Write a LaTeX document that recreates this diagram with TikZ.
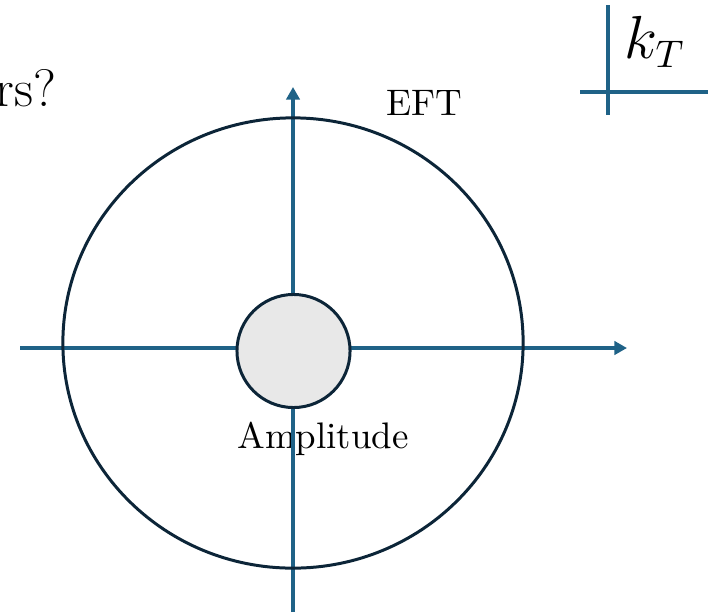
\documentclass[tikz,border=0pt]{standalone}
\usepackage{tikz}
\usetikzlibrary{arrows.meta,shapes.geometric}
\definecolor{axblue}{HTML}{1F6287}
\definecolor{rimnavy}{HTML}{0C2538}
\definecolor{blobgray}{HTML}{E8E8E8}

\begin{document}
\begin{tikzpicture}[x=0.01cm,y=-0.01cm,>={Triangle[length=3.6pt,width=3.8pt]},
  ax/.style={draw=axblue,line width=0.9pt},
  rim/.style={draw=rimnavy,line width=0.85pt,inner sep=0pt},
  lab/.style={font=\fontsize{10.5}{12}\selectfont,inner sep=0pt}]
  \clip (0,0) rectangle (719,612);
  \node[lab,anchor=base east,font=\fontsize{15}{17}\selectfont] (quest) at (57,106) {ors?};
  \node[lab,anchor=base] (efttxt) at (424,115) {EFT};
  \node[lab,anchor=base] (amptxt) at (323,448) {Amplitude};
  \node[lab,anchor=base west,font=\fontsize{16}{18}\selectfont] (kt) at (624,58) {$k_T$};
  % small k_T cross
  \coordinate (kvt) at (608,5);
  \coordinate (kvb) at (608,115);
  \coordinate (khl) at (580,92);
  \coordinate (khr) at (708,92);
  \draw[ax] (kvt) -- (kvb);
  \draw[ax] (khl) -- (khr);
  % axes
  \coordinate (xl) at (20,348);
  \coordinate (xr) at (627,348);
  \coordinate (yb) at (293,612);
  \coordinate (yt) at (293,87);
  \draw[ax,->] (xl) -- (xr);
  \draw[ax,->] (yb) -- (yt);
  % regions
  \node[rim,ellipse,minimum width=4.6cm,minimum height=4.5cm] (eft) at (293,343) {};
  \node[rim,circle,fill=blobgray,minimum size=1.13cm] (amp) at (293.5,351) {};
\end{tikzpicture}
\end{document}
